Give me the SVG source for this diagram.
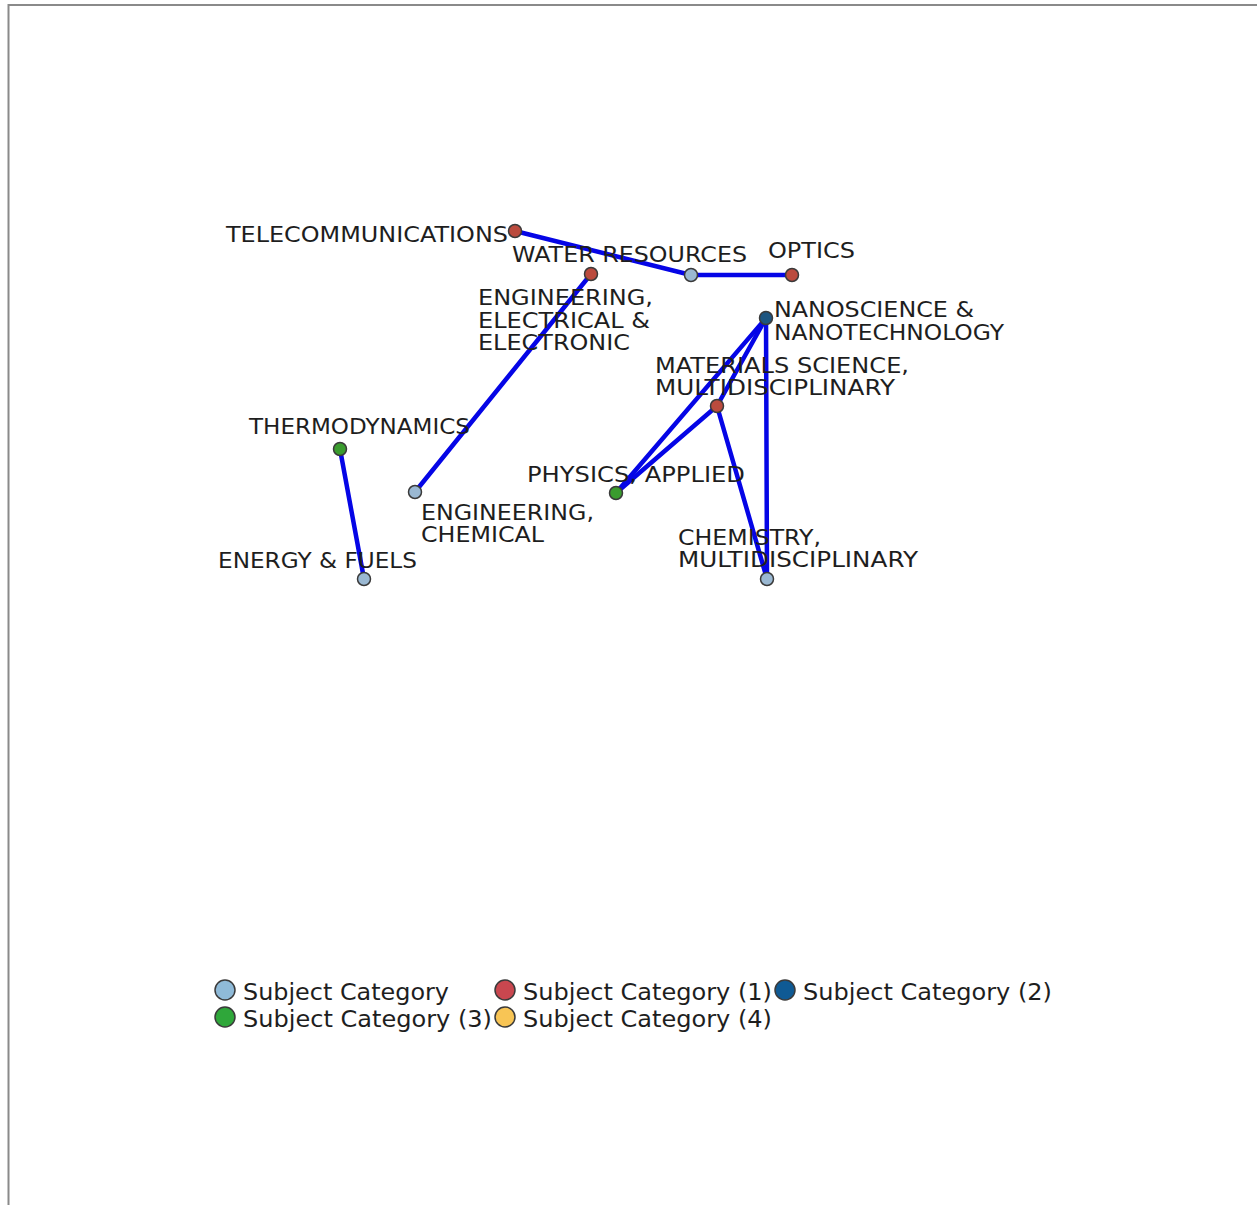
<svg xmlns="http://www.w3.org/2000/svg" width="1257" height="1205" viewBox="0 0 1257 1205">
<style>
.lbl{font-family:"DejaVu Sans","Liberation Sans",sans-serif;font-size:22px;fill:#1e1e1e}
.leg{font-family:"DejaVu Sans","Liberation Sans",sans-serif;font-size:23px;fill:#1e1e1e}
.edge{stroke:#0505e6;stroke-width:4.5;stroke-linecap:round;fill:none}
.node{stroke:#3a3a3a;stroke-width:1.5}
.c0{fill:#9ab8d2}.c1{fill:#bb4b3e}.c2{fill:#1d5580}.c3{fill:#3a9c2e}.c4{fill:#f5c25e}
.lc0{fill:#8fbad8}.lc1{fill:#c9474f}.lc2{fill:#0f5a94}.lc3{fill:#2fa73a}.lc4{fill:#f8c555}
</style>
<rect x="0" y="0" width="1257" height="1205" fill="#ffffff"/>
<path d="M8.5 1205 V5 H1257" stroke="#8a8a8a" stroke-width="2" fill="none"/>
<g id="edges">
<line class="edge" x1="515" y1="231" x2="691" y2="275"/>
<line class="edge" x1="691" y1="275" x2="792" y2="275"/>
<line class="edge" x1="591" y1="274" x2="415" y2="492"/>
<line class="edge" x1="340" y1="449" x2="364" y2="579"/>
<line class="edge" x1="766" y1="318" x2="616" y2="493"/>
<line class="edge" x1="766" y1="318" x2="717" y2="406"/>
<line class="edge" x1="766" y1="318" x2="767" y2="579"/>
<line class="edge" x1="717" y1="406" x2="616" y2="493"/>
<line class="edge" x1="717" y1="406" x2="767" y2="579"/>
</g>
<g id="n-telecom"><text class="lbl" x="226" y="242" textLength="282" lengthAdjust="spacingAndGlyphs">TELECOMMUNICATIONS</text><circle class="node c1" cx="515" cy="231" r="6.5"/></g>
<g id="n-water"><text class="lbl" x="512" y="262" textLength="235" lengthAdjust="spacingAndGlyphs">WATER RESOURCES</text><circle class="node c0" cx="691" cy="275" r="6.5"/></g>
<g id="n-optics"><text class="lbl" x="768" y="258" textLength="87" lengthAdjust="spacingAndGlyphs">OPTICS</text><circle class="node c1" cx="792" cy="275" r="6.5"/></g>
<g id="n-ee"><text class="lbl" x="478" y="305" textLength="175" lengthAdjust="spacingAndGlyphs">ENGINEERING,</text><text class="lbl" x="478" y="328" textLength="172" lengthAdjust="spacingAndGlyphs">ELECTRICAL &amp;</text><text class="lbl" x="478" y="350" textLength="152" lengthAdjust="spacingAndGlyphs">ELECTRONIC</text><circle class="node c1" cx="591" cy="274" r="6.5"/></g>
<g id="n-nano"><text class="lbl" x="774" y="317" textLength="200" lengthAdjust="spacingAndGlyphs">NANOSCIENCE &amp;</text><text class="lbl" x="774" y="340" textLength="230" lengthAdjust="spacingAndGlyphs">NANOTECHNOLOGY</text><circle class="node c2" cx="766" cy="318" r="6.5"/></g>
<g id="n-materials"><text class="lbl" x="655" y="373" textLength="254" lengthAdjust="spacingAndGlyphs">MATERIALS SCIENCE,</text><text class="lbl" x="655" y="395" textLength="240" lengthAdjust="spacingAndGlyphs">MULTIDISCIPLINARY</text><circle class="node c1" cx="717" cy="406" r="6.5"/></g>
<g id="n-thermo"><text class="lbl" x="249" y="434" textLength="221" lengthAdjust="spacingAndGlyphs">THERMODYNAMICS</text><circle class="node c3" cx="340" cy="449" r="6.5"/></g>
<g id="n-physics"><text class="lbl" x="527" y="482" textLength="218" lengthAdjust="spacingAndGlyphs">PHYSICS, APPLIED</text><circle class="node c3" cx="616" cy="493" r="6.5"/></g>
<g id="n-engchem"><text class="lbl" x="421" y="520" textLength="173" lengthAdjust="spacingAndGlyphs">ENGINEERING,</text><text class="lbl" x="421" y="542" textLength="123" lengthAdjust="spacingAndGlyphs">CHEMICAL</text><circle class="node c0" cx="415" cy="492" r="6.5"/></g>
<g id="n-energy"><text class="lbl" x="218" y="568" textLength="199" lengthAdjust="spacingAndGlyphs">ENERGY &amp; FUELS</text><circle class="node c0" cx="364" cy="579" r="6.5"/></g>
<g id="n-chem"><text class="lbl" x="678" y="545" textLength="143" lengthAdjust="spacingAndGlyphs">CHEMISTRY,</text><text class="lbl" x="678" y="567" textLength="240" lengthAdjust="spacingAndGlyphs">MULTIDISCIPLINARY</text><circle class="node c0" cx="767" cy="579" r="6.5"/></g>
<g id="legend">
<circle class="node lc0" cx="225" cy="990" r="10"/><text class="leg" x="243" y="1000" textLength="206" lengthAdjust="spacingAndGlyphs">Subject Category</text>
<circle class="node lc1" cx="505" cy="990" r="10"/><text class="leg" x="523" y="1000" textLength="249" lengthAdjust="spacingAndGlyphs">Subject Category (1)</text>
<circle class="node lc2" cx="785" cy="990" r="10"/><text class="leg" x="803" y="1000" textLength="249" lengthAdjust="spacingAndGlyphs">Subject Category (2)</text>
<circle class="node lc3" cx="225" cy="1017" r="10"/><text class="leg" x="243" y="1027" textLength="249" lengthAdjust="spacingAndGlyphs">Subject Category (3)</text>
<circle class="node lc4" cx="505" cy="1017" r="10"/><text class="leg" x="523" y="1027" textLength="249" lengthAdjust="spacingAndGlyphs">Subject Category (4)</text>
</g>
</svg>
